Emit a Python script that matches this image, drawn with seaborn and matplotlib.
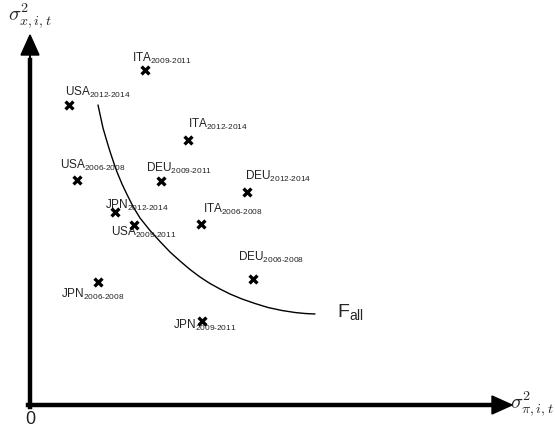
import matplotlib
matplotlib.use("Agg")
import matplotlib.pyplot as plt
import seaborn as sns
import pandas as pd

# ---- data (arbitrary units) ----
countries = ["ITA", "USA", "ITA", "USA", "DEU", "DEU", "JPN", "ITA", "USA", "DEU", "JPN", "JPN"]
periods = ["2009-2011", "2012-2014", "2012-2014", "2006-2008", "2009-2011", "2012-2014",
           "2012-2014", "2006-2008", "2009-2011", "2006-2008", "2006-2008", "2009-2011"]
sigma_pi = [115, 39, 158, 47, 131, 217, 85, 171, 104, 223, 68, 172]
sigma_x = [335, 300, 265, 225, 224, 213, 193, 181, 180, 126, 123, 84]

# frontier F_all, points
curve_pi = [68, 70.5, 73, 76.5, 80, 83.5, 87, 92, 97, 103, 110, 120, 130, 140, 150,
            160, 170, 180, 190, 200, 212, 225, 238, 252, 265, 275, 285]
curve_x = [300, 288.5, 277, 265, 253.5, 243, 233, 221, 210.5, 198.5, 187, 174.5, 163.5, 153, 144,
           135.5, 128, 121.5, 116, 111, 106, 101.5, 97.5, 94.5, 92.5, 91.5, 91]

# label offsets (pixels) relative to each marker: (dx, dy)
label_dx = [-13, -4, 0, -17, -15, -2, -10, 2, -23, -15, -37, -29]
label_dy = [8, 9, 12, 11, 9, 12, 3, 11, -11, 18, -16, -8]

sns.set_style("white")
plt.rcParams["font.family"] = ["Liberation Sans", "DejaVu Sans"]
plt.rcParams["mathtext.fontset"] = "custom"
plt.rcParams["mathtext.rm"] = "Liberation Sans"
plt.rcParams["mathtext.it"] = "Liberation Sans:italic"
plt.rcParams["mathtext.bf"] = "Liberation Sans:bold"

fig = plt.figure(figsize=(5.55, 4.32), dpi=100)
ax = fig.add_axes([0, 0, 1, 1])
ax.set_xlim(-30, 525)
ax.set_ylim(-27, 405)
ax.axis("off")

pts = pd.DataFrame({"pi": sigma_pi, "x": sigma_x, "c": countries, "p": periods})
crv = pd.DataFrame({"pi": curve_pi, "x": curve_x})

sns.lineplot(data=crv, x="pi", y="x", sort=False, color="black", linewidth=1.0, ax=ax,
             estimator=None, solid_joinstyle="round")
sns.scatterplot(data=pts, x="pi", y="x", marker="x", color="black", s=32, linewidth=2.4, ax=ax, zorder=5)

for i, row in pts.iterrows():
    ax.annotate(r"%s$_{\text{%s}}$" % (row["c"], row["p"]), (row["pi"], row["x"]),
                xytext=(label_dx[i], label_dy[i]), textcoords="offset pixels",
                ha="left", va="baseline", fontsize=8.5, color="#222222")

# axes arrows
ax.plot([0, 0], [-2, 345], color="black", linewidth=3.2, solid_capstyle="projecting")
ax.plot([-2, 460], [0, 0], color="black", linewidth=3.2, solid_capstyle="projecting")
ax.arrow(0, 345, 0, 5, width=0, head_width=18, head_length=20, color="black", length_includes_head=False)
ax.arrow(460, 0, 2, 0, width=0, head_width=18, head_length=20, color="black", length_includes_head=False)

ax.text(0, -15, "0", ha="center", va="center", fontsize=13, color="#222222")
ax.text(320, 93, r"F$_{\text{all}}$", ha="center", va="center", fontsize=14)

ax.text(0, 389, r"$\sigma^2_{x,i,t}$", ha="center", va="center", fontsize=14.5, math_fontfamily="cm")
ax.text(502, 1, r"$\sigma^2_{\pi,i,t}$", ha="center", va="center", fontsize=14.5, math_fontfamily="cm")

fig.savefig("out.png", dpi=100)
